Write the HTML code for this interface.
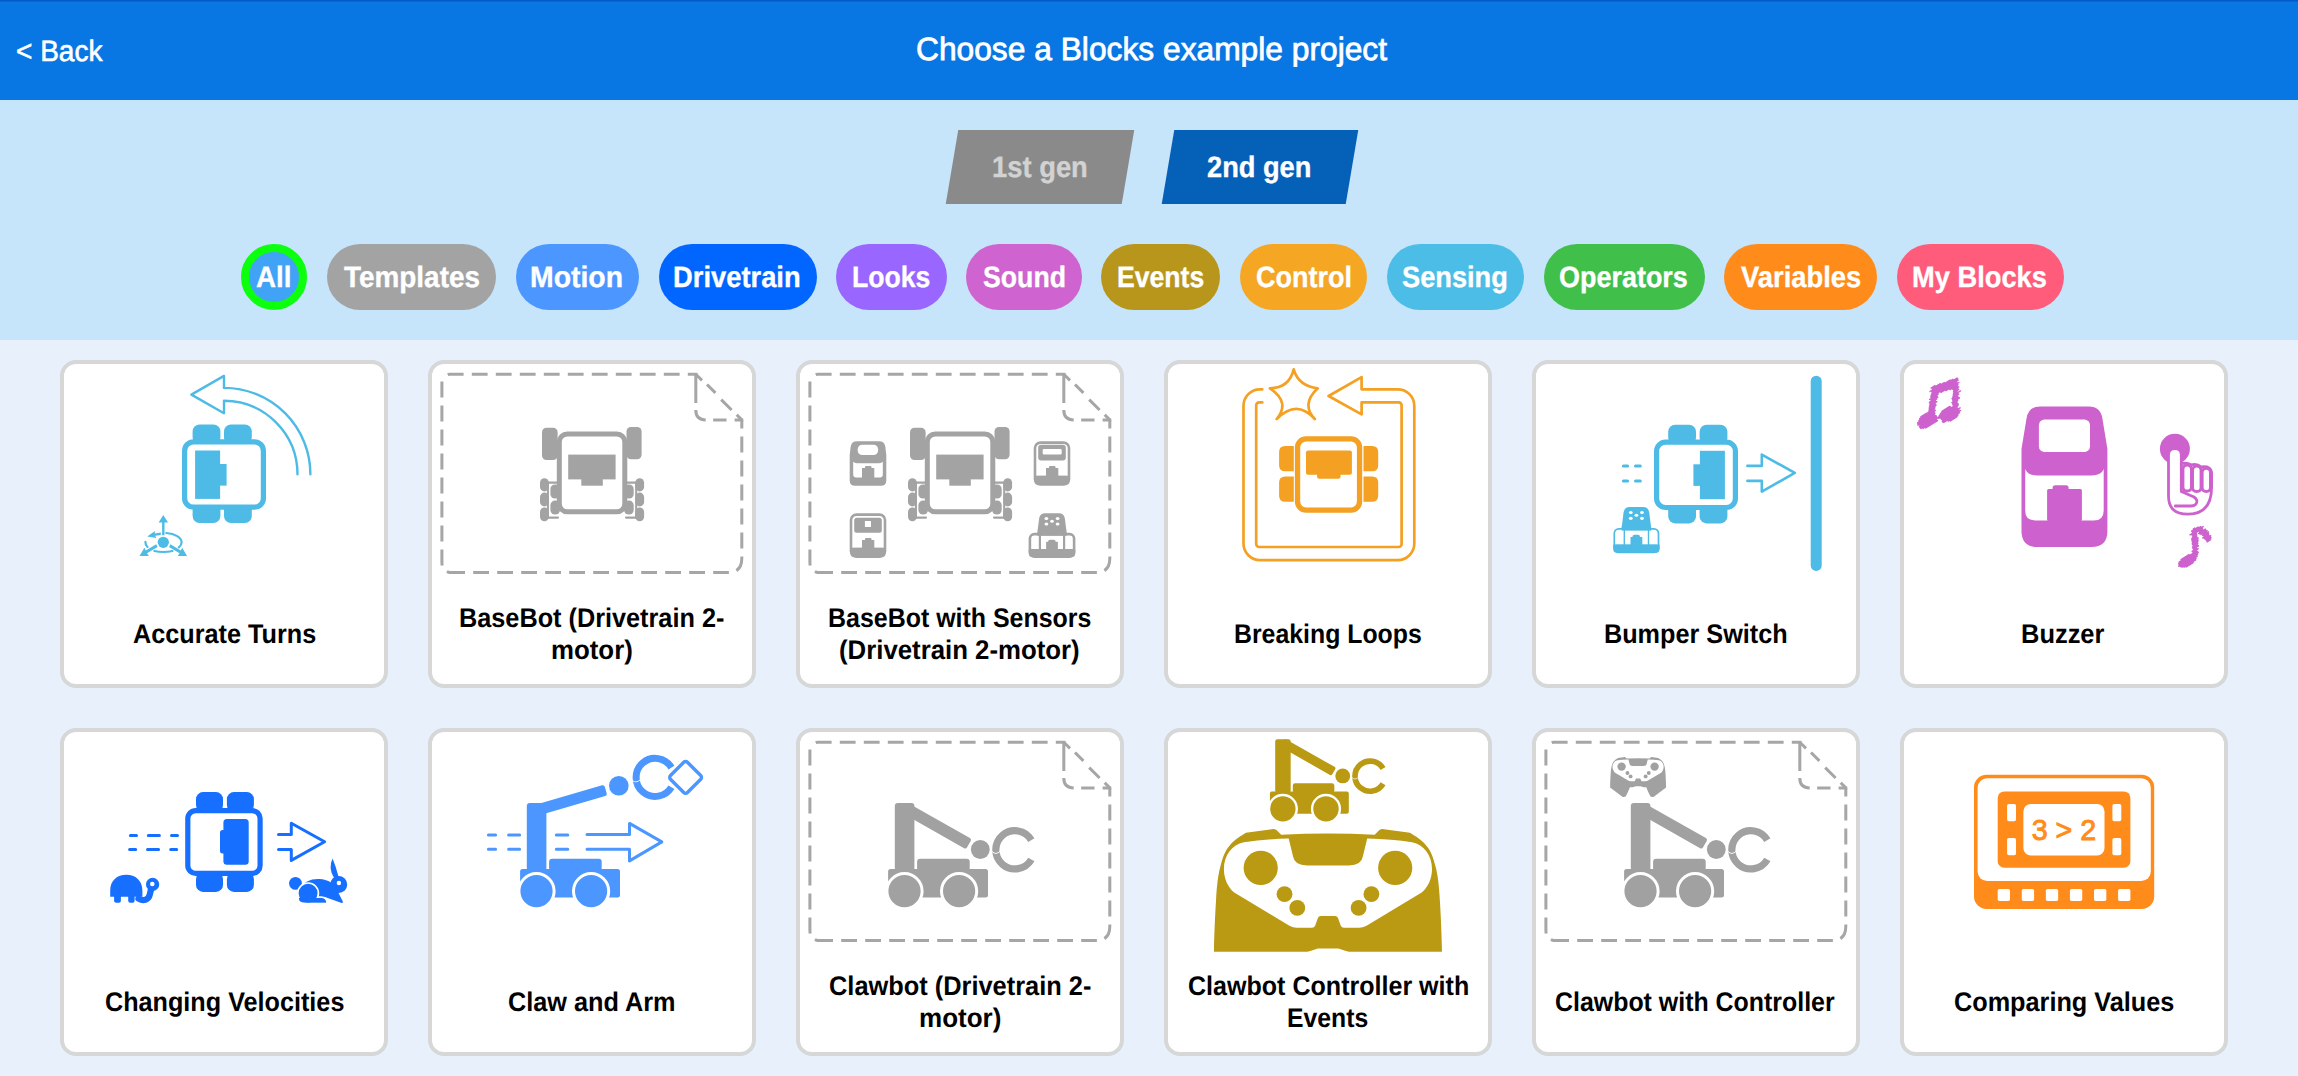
<!DOCTYPE html>
<html lang="en"><head><meta charset="utf-8"><title>Choose a Blocks example project</title>
<style>
html,body{margin:0;padding:0}
body{width:2298px;height:1076px;overflow:hidden;position:relative;background:#e8f0fc;font-family:"Liberation Sans",sans-serif}
.hdr{position:absolute;left:0;top:0;width:2298px;height:100px;background:#0977e3}
.hdr:before{content:"";position:absolute;left:0;top:0;width:100%;height:2px;background:linear-gradient(#0352c2,#0a6edc)}
.flt{position:absolute;left:0;top:100px;width:2298px;height:240px;background:#c6e4fa}
.t{position:absolute;white-space:nowrap;transform-origin:0 50%;text-rendering:geometricPrecision}
.tab{position:absolute;top:130px;height:74px;transform:skewX(-9.6deg)}
.pill{position:absolute;top:244px;height:66px;border-radius:33px}
.card{position:absolute;width:320px;height:320px;border:4px solid #d7d7d7;border-radius:16px;background:#fff}
.card svg{position:absolute;left:-4px;top:-4px;width:328px;height:328px;overflow:visible}
</style></head><body>
<div class="hdr"></div><div class="flt"></div>

<div class="t" style="left:15.9px;top:34.6px;font-size:30px;line-height:33px;font-weight:400;color:#fff;-webkit-text-stroke:0.6px #fff;transform-origin:0 27px;transform:scale(0.9341,0.982)">&lt; Back</div>
<div class="t" style="left:915.7px;top:31px;font-size:33.5px;line-height:37px;font-weight:400;color:#fff;-webkit-text-stroke:0.8px #fff;transform-origin:0 30px;transform:scale(0.9474,0.96)">Choose a Blocks example project</div>
<div class="tab" style="left:952px;width:176px;background:#8a8a8a"></div>
<div class="tab" style="left:1167.6px;width:183.9px;background:#0560b8"></div>
<div class="t" style="left:992.2px;top:150.5px;font-size:30px;line-height:33px;font-weight:700;color:#d2d2d2;-webkit-text-stroke:0.35px #d2d2d2;transform-origin:0 27px;transform:scale(0.9124,0.985)">1st gen</div>
<div class="t" style="left:1207.3px;top:150.5px;font-size:30px;line-height:33px;font-weight:700;color:#fff;-webkit-text-stroke:0.35px #fff;transform-origin:0 27px;transform:scale(0.9078,0.985)">2nd gen</div>
<div class="pill" style="left:241px;width:50px;height:50px;border:8px solid #0cff0c;background:#40a3f5"></div>
<div class="t" style="left:255.5px;top:260.8px;font-size:30px;line-height:33px;font-weight:700;color:#fff;-webkit-text-stroke:0.35px #fff;transform-origin:0 27px;transform:scale(0.9235,0.985)">All</div>
<div class="pill" style="left:326.7px;width:169.0px;background:#a3a3a3"></div>
<div class="t" style="left:343.5px;top:260.8px;font-size:30px;line-height:33px;font-weight:700;color:#fff;-webkit-text-stroke:0.35px #fff;transform-origin:0 27px;transform:scale(0.9302,0.985)">Templates</div>
<div class="pill" style="left:515.7px;width:123.0px;background:#4c97ff"></div>
<div class="t" style="left:530.3px;top:260.8px;font-size:30px;line-height:33px;font-weight:700;color:#fff;-webkit-text-stroke:0.35px #fff;transform-origin:0 27px;transform:scale(0.9463,0.985)">Motion</div>
<div class="pill" style="left:658.5px;width:158.0px;background:#0066ff"></div>
<div class="t" style="left:672.9px;top:260.8px;font-size:30px;line-height:33px;font-weight:700;color:#fff;-webkit-text-stroke:0.35px #fff;transform-origin:0 27px;transform:scale(0.9114,0.985)">Drivetrain</div>
<div class="pill" style="left:836px;width:110.5px;background:#9966ff"></div>
<div class="t" style="left:852.1px;top:260.8px;font-size:30px;line-height:33px;font-weight:700;color:#fff;-webkit-text-stroke:0.35px #fff;transform-origin:0 27px;transform:scale(0.8873,0.985)">Looks</div>
<div class="pill" style="left:966px;width:115.5px;background:#cf63cf"></div>
<div class="t" style="left:982.7px;top:260.8px;font-size:30px;line-height:33px;font-weight:700;color:#fff;-webkit-text-stroke:0.35px #fff;transform-origin:0 27px;transform:scale(0.8895,0.985)">Sound</div>
<div class="pill" style="left:1101px;width:119px;background:#b8961b"></div>
<div class="t" style="left:1117.1px;top:260.8px;font-size:30px;line-height:33px;font-weight:700;color:#fff;-webkit-text-stroke:0.35px #fff;transform-origin:0 27px;transform:scale(0.8864,0.985)">Events</div>
<div class="pill" style="left:1240px;width:127px;background:#f5a623"></div>
<div class="t" style="left:1256.2px;top:260.8px;font-size:30px;line-height:33px;font-weight:700;color:#fff;-webkit-text-stroke:0.35px #fff;transform-origin:0 27px;transform:scale(0.8997,0.985)">Control</div>
<div class="pill" style="left:1387px;width:136.5px;background:#4cbde6"></div>
<div class="t" style="left:1402.4px;top:260.8px;font-size:30px;line-height:33px;font-weight:700;color:#fff;-webkit-text-stroke:0.35px #fff;transform-origin:0 27px;transform:scale(0.9071,0.985)">Sensing</div>
<div class="pill" style="left:1543.5px;width:161.0px;background:#40bf4a"></div>
<div class="t" style="left:1558.7px;top:260.8px;font-size:30px;line-height:33px;font-weight:700;color:#fff;-webkit-text-stroke:0.35px #fff;transform-origin:0 27px;transform:scale(0.8987,0.985)">Operators</div>
<div class="pill" style="left:1724px;width:153px;background:#ff8c1a"></div>
<div class="t" style="left:1740.8px;top:260.8px;font-size:30px;line-height:33px;font-weight:700;color:#fff;-webkit-text-stroke:0.35px #fff;transform-origin:0 27px;transform:scale(0.9125,0.985)">Variables</div>
<div class="pill" style="left:1897px;width:166.5px;background:#ff5c7c"></div>
<div class="t" style="left:1912.1px;top:260.8px;font-size:30px;line-height:33px;font-weight:700;color:#fff;-webkit-text-stroke:0.35px #fff;transform-origin:0 27px;transform:scale(0.9096,0.985)">My Blocks</div>
<div class="card" style="left:60px;top:360px"><svg viewBox="0 0 328 328"><g transform="translate(-60,-360)"><g transform="translate(182,424.5)"><g fill="#4dbbe6"><rect x="10.60" y="0.00" width="27.80" height="20.00" rx="7" /><rect x="10.60" y="78.60" width="27.80" height="20.00" rx="7" /><rect x="42.00" y="0.00" width="27.80" height="20.00" rx="7" /><rect x="42.00" y="78.60" width="27.80" height="20.00" rx="7" /><rect x="2.6" y="17.3" width="78.8" height="65.4" rx="9" fill="#fff" stroke="#4dbbe6" stroke-width="5.2"/><rect x="13.10" y="26.00" width="25.00" height="48.40" rx="0" /><rect x="37.00" y="39.50" width="7.60" height="21.60" rx="0" /></g></g><path d="M310.4,474.3 A86.4,86.4 0 0 0 224,387.9 V375.9 L191.4,394.6 L224,413.2 V400.8 A73.5,73.5 0 0 1 297.5,474.3" fill="none" stroke="#4dbbe6" stroke-width="2.4" stroke-linecap="round" stroke-linejoin="round"/><g fill="#4dbbe6" stroke="none"><circle cx="163.3" cy="542.3" r="5.6"/><path d="M162.1,535.2 V522.6 H158.6 L163.3,514.9 L168,522.6 H164.5 V535.2Z"/><path d="M156.2,544.3 L157.6,546.9 L147,553.2 L148.9,556 H139.5 L144.4,547.8 L145.8,550.6Z"/><path d="M170.4,544.3 L169,546.9 L179.6,553.2 L177.7,556 H187.1 L182.2,547.8 L180.8,550.6Z"/><path d="M147.2,536.4 L155,530.9 L154.6,533.4 L160.8,532.6 V535 L155.2,535.7 L156.4,538Z"/></g><path d="M166.3,533 C175,533.6 181.6,537.6 181.6,542.3 C181.6,544.3 180.6,546 178.8,547.4 M172.5,551 C166.5,552.3 160,552.3 154.3,551 M147.5,547 C145.6,545.4 145.3,543.6 145.4,541.8" fill="none" stroke="#4dbbe6" stroke-width="2.2" stroke-linecap="round"/></g></svg></div>
<div class="t" style="left:132.7px;top:619px;font-size:27px;line-height:30px;font-weight:700;color:#000;transform-origin:0 24px;transform:scale(0.9349,1.0)">Accurate Turns</div>
<div class="card" style="left:428px;top:360px"><svg viewBox="0 0 328 328"><g fill="none" stroke="#a6a6a6" stroke-width="3" stroke-linejoin="round"><path d="M18.6,15.4 Q19.6,14.3 21.5,14.3 H269.3" stroke-dasharray="15.8 8.2" stroke-dashoffset="-1.4"/><path d="M13.9,21.4 V202 Q13.9,212.6 24.5,212.6" stroke-dasharray="16 8" stroke-dashoffset="0"/><path d="M21.2,212.6 H300.8" stroke-dasharray="15.8 8.2" stroke-dashoffset="0"/><path d="M313.8,59.9 V198.6 Q313.8,212.6 299.8,212.6" stroke-dasharray="15.8 8.2" stroke-dashoffset="7.3"/><path d="M267.8,13 V43"/><path d="M267.8,50 Q267.8,59.9 277.7,59.9"/><path d="M285.2,59.9 H298.5 M306.6,59.9 H315.3"/><path d="M267.8,14.3 L274,20.4 M279,24.5 L287.4,32.9 M293.2,39.6 L303.6,50 M308.7,54.8 L313.8,59.9"/></g><g transform="translate(-428,-360)"><g fill="#a3a3a3"><rect x="542.00" y="427.80" width="15.60" height="32.30" rx="4.5" /><rect x="626.50" y="427.00" width="15.10" height="32.30" rx="4.5" /><rect x="540.00" y="478.20" width="8.80" height="13.20" rx="4.4" /><rect x="540.00" y="492.60" width="8.80" height="13.80" rx="4.4" /><rect x="540.00" y="507.40" width="8.80" height="13.80" rx="4.4" /><rect x="550.40" y="484.40" width="9.60" height="14.20" rx="4.6" /><rect x="550.40" y="500.60" width="9.60" height="14.00" rx="4.6" /><path d="M544,482.6 H558 M544,517.6 H558 M547.9,482 V518" stroke="#a3a3a3" stroke-width="2.1" stroke-linecap="round" fill="none"/><rect x="635.30" y="478.20" width="8.80" height="13.20" rx="4.4" /><rect x="635.30" y="492.60" width="8.80" height="13.80" rx="4.4" /><rect x="635.30" y="507.40" width="8.80" height="13.80" rx="4.4" /><rect x="624.10" y="484.40" width="9.60" height="14.20" rx="4.6" /><rect x="624.10" y="500.60" width="9.60" height="14.00" rx="4.6" /><path d="M626,482.6 H640 M626,517.6 H640 M636.2,482 V518" stroke="#a3a3a3" stroke-width="2.1" stroke-linecap="round" fill="none"/><rect x="559.3" y="434" width="65.5" height="77.8" rx="8" fill="#fff" stroke="#a3a3a3" stroke-width="5"/><rect x="568.20" y="454.60" width="47.40" height="24.80" rx="0" /><rect x="581.30" y="479.00" width="21.50" height="6.70" rx="0" /></g></g></svg></div>
<div class="t" style="left:458.6px;top:603px;font-size:27px;line-height:30px;font-weight:700;color:#000;transform-origin:0 24px;transform:scale(0.9357,1.0)">BaseBot (Drivetrain 2-</div>
<div class="t" style="left:550.6px;top:635px;font-size:27px;line-height:30px;font-weight:700;color:#000;transform-origin:0 24px;transform:scale(0.9569,1.0)">motor)</div>
<div class="card" style="left:796px;top:360px"><svg viewBox="0 0 328 328"><g fill="none" stroke="#a6a6a6" stroke-width="3" stroke-linejoin="round"><path d="M18.6,15.4 Q19.6,14.3 21.5,14.3 H269.3" stroke-dasharray="15.8 8.2" stroke-dashoffset="-1.4"/><path d="M13.9,21.4 V202 Q13.9,212.6 24.5,212.6" stroke-dasharray="16 8" stroke-dashoffset="0"/><path d="M21.2,212.6 H300.8" stroke-dasharray="15.8 8.2" stroke-dashoffset="0"/><path d="M313.8,59.9 V198.6 Q313.8,212.6 299.8,212.6" stroke-dasharray="15.8 8.2" stroke-dashoffset="7.3"/><path d="M267.8,13 V43"/><path d="M267.8,50 Q267.8,59.9 277.7,59.9"/><path d="M285.2,59.9 H298.5 M306.6,59.9 H315.3"/><path d="M267.8,14.3 L274,20.4 M279,24.5 L287.4,32.9 M293.2,39.6 L303.6,50 M308.7,54.8 L313.8,59.9"/></g><g transform="translate(-796,-360)"><g transform="translate(368,0)"><g fill="#a3a3a3"><rect x="542.00" y="427.80" width="15.60" height="32.30" rx="4.5" /><rect x="626.50" y="427.00" width="15.10" height="32.30" rx="4.5" /><rect x="540.00" y="478.20" width="8.80" height="13.20" rx="4.4" /><rect x="540.00" y="492.60" width="8.80" height="13.80" rx="4.4" /><rect x="540.00" y="507.40" width="8.80" height="13.80" rx="4.4" /><rect x="550.40" y="484.40" width="9.60" height="14.20" rx="4.6" /><rect x="550.40" y="500.60" width="9.60" height="14.00" rx="4.6" /><path d="M544,482.6 H558 M544,517.6 H558 M547.9,482 V518" stroke="#a3a3a3" stroke-width="2.1" stroke-linecap="round" fill="none"/><rect x="635.30" y="478.20" width="8.80" height="13.20" rx="4.4" /><rect x="635.30" y="492.60" width="8.80" height="13.80" rx="4.4" /><rect x="635.30" y="507.40" width="8.80" height="13.80" rx="4.4" /><rect x="624.10" y="484.40" width="9.60" height="14.20" rx="4.6" /><rect x="624.10" y="500.60" width="9.60" height="14.00" rx="4.6" /><path d="M626,482.6 H640 M626,517.6 H640 M636.2,482 V518" stroke="#a3a3a3" stroke-width="2.1" stroke-linecap="round" fill="none"/><rect x="559.3" y="434" width="65.5" height="77.8" rx="8" fill="#fff" stroke="#a3a3a3" stroke-width="5"/><rect x="568.20" y="454.60" width="47.40" height="24.80" rx="0" /><rect x="581.30" y="479.00" width="21.50" height="6.70" rx="0" /></g></g><g fill="#a3a3a3"><path d="M857,441.3 H879 Q884.5,441.3 885.3,446.5 L886.3,455 V480.2 Q886.3,485.7 880.8,485.7 H855.2 Q849.7,485.7 849.7,480.2 V455 L850.7,446.5 Q851.5,441.3 857,441.3Z"/><rect x="857.70" y="444.80" width="20.40" height="10.20" rx="4.5" fill="#fff" /><path d="M853.2,461.5 Q854,463.3 857,463.3 H879 Q882,463.3 882.8,461.5 V474.5 Q882.8,477.5 879.8,477.5 H856.2 Q853.2,477.5 853.2,474.5Z" fill="#fff"/><rect x="862.00" y="468.00" width="12.30" height="10.00" rx="0" /><rect x="865.00" y="466.00" width="6.50" height="3.00" rx="1" /><rect x="1035" y="442.6" width="34" height="41.8" rx="5.5" fill="#fff" stroke="#a3a3a3" stroke-width="2.6"/><rect x="1038.20" y="444.80" width="27.60" height="15.70" rx="3" /><rect x="1042.70" y="448.90" width="19.00" height="5.50" rx="1.2" fill="#fff" /><rect x="1034.70" y="475.80" width="34.60" height="8.90" rx="3" /><rect x="1034.70" y="475.80" width="34.60" height="4.20" rx="0" /><rect x="1046.00" y="468.00" width="12.30" height="10.00" rx="0" /><rect x="1049.00" y="466.00" width="6.50" height="3.00" rx="1" /><rect x="851" y="514.6" width="34" height="42" rx="5.5" fill="#fff" stroke="#a3a3a3" stroke-width="2.6"/><rect x="854.20" y="517.80" width="27.60" height="14.90" rx="2.5" /><rect x="864.90" y="520.90" width="6.10" height="6.10" rx="0.5" fill="#fff" /><rect x="850.70" y="547.80" width="34.60" height="9.10" rx="3" /><rect x="850.70" y="547.80" width="34.60" height="4.20" rx="0" /><rect x="862.00" y="540.00" width="12.30" height="10.00" rx="0" /><rect x="865.00" y="538.00" width="6.50" height="3.00" rx="1" /><g transform="translate(1028.6,513.3)" fill="#a3a3a3"><path d="M16.5,0 H30.3 Q35.3,0 36.2,5 L38.4,21.5 H8.4 L10.6,5 Q11.5,0 16.5,0Z"/><ellipse cx="17.8" cy="5.2" rx="1.9" ry="1.5" fill="#fff"/><ellipse cx="29" cy="5.2" rx="1.9" ry="1.5" fill="#fff"/><ellipse cx="23.4" cy="7.9" rx="1.9" ry="1.5" fill="#fff"/><ellipse cx="17.8" cy="10.8" rx="1.9" ry="1.5" fill="#fff"/><ellipse cx="29" cy="10.8" rx="1.9" ry="1.5" fill="#fff"/><rect x="1.3" y="20.8" width="44.2" height="22.5" rx="4.5" fill="#fff" stroke="#a3a3a3" stroke-width="2.6"/><rect x="0.20" y="35.80" width="46.40" height="7.80" rx="3.5" /><rect x="0.20" y="35.80" width="46.40" height="3.70" rx="0" /><path d="M11.3,20.5 V37 M35.5,20.5 V37" stroke="#a3a3a3" stroke-width="2.2" fill="none"/><rect x="17.50" y="28.50" width="11.80" height="9.50" rx="0" /><rect x="19.50" y="26.50" width="7.50" height="3.50" rx="2" /><rect x="8.60" y="19.50" width="29.60" height="3.00" rx="0" /></g></g></g></svg></div>
<div class="t" style="left:827.7px;top:603px;font-size:27px;line-height:30px;font-weight:700;color:#000;transform-origin:0 24px;transform:scale(0.9241,1.0)">BaseBot with Sensors</div>
<div class="t" style="left:839.4px;top:635px;font-size:27px;line-height:30px;font-weight:700;color:#000;transform-origin:0 24px;transform:scale(0.9547,1.0)">(Drivetrain 2-motor)</div>
<div class="card" style="left:1164px;top:360px"><svg viewBox="0 0 328 328"><g transform="translate(-1164,-360)"><path d="M1262.3,389.3 H1260 A16.5,16.5 0 0 0 1243.5,405.8 V543.6 A16.5,16.5 0 0 0 1260,560.1 H1397.8 A16.5,16.5 0 0 0 1414.3,543.6 V405.8 A16.5,16.5 0 0 0 1397.8,389.3 H1361.6 V377.2 L1328.6,396 L1361.6,414.4 V402.4 H1398.6 A3,3 0 0 1 1401.6,405.4 V544 A3,3 0 0 1 1398.6,547 H1259.2 A3,3 0 0 1 1256.2,544 V405.4 A3,3 0 0 1 1259.2,402.4 H1262.3" fill="none" stroke="#f4a022" stroke-width="2.7" stroke-linecap="round" stroke-linejoin="round"/><path d="M1293.7,369.4 Q1298.5,386.1 1317.7,388.3 Q1300.8,404.3 1314.8,419 Q1296.7,398.7 1276.7,419 Q1290.7,402.3 1269.9,388.3 Q1289.2,388.1 1293.7,369.4Z" fill="none" stroke="#f4a022" stroke-width="2.7" stroke-linejoin="round"/><g fill="#f4a022"><path d="M1293.8,445.9 H1285.1 Q1279.1,445.9 1279.1,451.9 V465.3 Q1279.1,471.3 1285.1,471.3 H1293.8Z"/><path d="M1363.5,445.9 H1372.2 Q1378.2,445.9 1378.2,451.9 V465.3 Q1378.2,471.3 1372.2,471.3 H1363.5Z"/><path d="M1293.8,476.6 H1285.1 Q1279.1,476.6 1279.1,482.6 V495.7 Q1279.1,501.7 1285.1,501.7 H1293.8Z"/><path d="M1363.5,476.6 H1372.2 Q1378.2,476.6 1378.2,482.6 V495.7 Q1378.2,501.7 1372.2,501.7 H1363.5Z"/><rect x="1297.55" y="438.85" width="62" height="71.2" rx="8.5" fill="#fff" stroke="#f4a022" stroke-width="5.3"/><rect x="1306.00" y="450.40" width="45.90" height="24.40" rx="2" /><rect x="1317.10" y="472.00" width="23.40" height="6.70" rx="2" /></g></g></svg></div>
<div class="t" style="left:1233.7px;top:619px;font-size:27px;line-height:30px;font-weight:700;color:#000;transform-origin:0 24px;transform:scale(0.9202,1.0)">Breaking Loops</div>
<div class="card" style="left:1532px;top:360px"><svg viewBox="0 0 328 328"><g transform="translate(-1532,-360)"><line x1="1816.2" y1="381.2" x2="1816.2" y2="565.4" stroke="#4dbbe6" stroke-width="11" stroke-linecap="round"/><g transform="translate(1738,424.8) scale(-1,1)"><g fill="#4dbbe6"><rect x="10.60" y="0.00" width="27.80" height="20.00" rx="7" /><rect x="10.60" y="78.60" width="27.80" height="20.00" rx="7" /><rect x="42.00" y="0.00" width="27.80" height="20.00" rx="7" /><rect x="42.00" y="78.60" width="27.80" height="20.00" rx="7" /><rect x="2.6" y="17.3" width="78.8" height="65.4" rx="9" fill="#fff" stroke="#4dbbe6" stroke-width="5.2"/><rect x="13.10" y="26.00" width="25.00" height="48.40" rx="0" /><rect x="37.00" y="39.50" width="7.60" height="21.60" rx="0" /></g></g><path d="M1623.4,465.9 H1627.6 M1635.5,465.9 H1640.3 M1623.4,480.9 H1627.6 M1635.5,480.9 H1640.3" stroke="#4dbbe6" stroke-width="3" stroke-linecap="round" fill="none"/><path d="M1747.4,465.9 H1761.8 V454.6 L1794.8,472.9 L1761.8,491.6 V480.9 H1747.4" fill="none" stroke="#4dbbe6" stroke-width="2.6" stroke-linecap="round" stroke-linejoin="round"/><g transform="translate(0,507) scale(1,1.05) translate(0,-507)"><g transform="translate(1613,507)" fill="#4dbbe6"><path d="M16.5,0 H30.3 Q35.3,0 36.2,5 L38.4,21.5 H8.4 L10.6,5 Q11.5,0 16.5,0Z"/><ellipse cx="17.8" cy="5.2" rx="1.9" ry="1.5" fill="#fff"/><ellipse cx="29" cy="5.2" rx="1.9" ry="1.5" fill="#fff"/><ellipse cx="23.4" cy="7.9" rx="1.9" ry="1.5" fill="#fff"/><ellipse cx="17.8" cy="10.8" rx="1.9" ry="1.5" fill="#fff"/><ellipse cx="29" cy="10.8" rx="1.9" ry="1.5" fill="#fff"/><rect x="1.3" y="20.8" width="44.2" height="22.5" rx="4.5" fill="#fff" stroke="#4dbbe6" stroke-width="1.7"/><rect x="0.20" y="35.80" width="46.40" height="7.80" rx="3.5" /><rect x="0.20" y="35.80" width="46.40" height="3.70" rx="0" /><path d="M11.3,20.5 V37 M35.5,20.5 V37" stroke="#4dbbe6" stroke-width="1.4" fill="none"/><rect x="17.50" y="28.50" width="11.80" height="9.50" rx="0" /><rect x="19.50" y="26.50" width="7.50" height="3.50" rx="2" /><rect x="8.60" y="19.50" width="29.60" height="3.00" rx="0" /></g></g></g></svg></div>
<div class="t" style="left:1604.2px;top:619px;font-size:27px;line-height:30px;font-weight:700;color:#000;transform-origin:0 24px;transform:scale(0.9342,1.0)">Bumper Switch</div>
<div class="card" style="left:1900px;top:360px"><svg viewBox="0 0 328 328"><g transform="translate(-1900,-360)"><g fill="#cd61cd"><path d="M2040,406.5 H2089 Q2100.5,406.5 2102.4,418.5 L2107.4,449 V531 Q2107.4,547 2091.4,547 H2037.5 Q2021.5,547 2021.5,531 V449 L2026.5,418.5 Q2028.4,406.5 2040,406.5Z"/><rect x="2038.90" y="419.60" width="51.10" height="32.30" rx="5.5" fill="#fff" /><path d="M2025.2,469 Q2027.5,475.4 2037.5,475.4 H2091.5 Q2101.5,475.4 2103.7,469 V510.4 Q2103.7,520.4 2093.7,520.4 H2035.2 Q2025.2,520.4 2025.2,510.4Z" fill="#fff"/><rect x="2047.10" y="489.10" width="34.80" height="31.90" rx="1.5" /><rect x="2052.60" y="485.20" width="16.00" height="5.80" rx="2.5" /><circle cx="2174.9" cy="448.8" r="15"/></g><g fill="#fff" stroke="#cd61cd" stroke-width="2.8" stroke-linejoin="round" stroke-linecap="round"><path d="M2168.5,455 Q2168.5,448.6 2174.9,448.6 Q2181.3,448.6 2181.3,455 V464 Q2186,461.8 2191.2,465 Q2196.5,463 2201.4,467 Q2211.4,465.5 2211.6,473.5 V487 Q2211.6,514 2188,514.2 Q2168.5,514.4 2168.5,496 Z"/><path d="M2181.3,464 V491.5 L2194,497 Q2199,500.5 2195.5,504.5 Q2194,506 2191,506 H2175.3" fill="none"/><path d="M2183,469.5 Q2183,465.2 2187.2,465.2 Q2191.4,465.2 2191.4,469.5 V487 Q2191.4,491 2187.2,491 Q2183,491 2183,487Z"/><path d="M2192.6,470.5 Q2192.6,466.2 2196.8,466.2 Q2201,466.2 2201,470.5 V487.5 Q2201,491.5 2196.8,491.5 Q2192.6,491.5 2192.6,487.5Z"/><path d="M2202.2,472.5 Q2202.2,468.4 2206.3,468.4 Q2210.4,468.4 2210.4,472.5 V487.5 Q2210.4,491.5 2206.3,491.5 Q2202.2,491.5 2202.2,487.5Z"/></g><path d="M1931.1,388.0L1935.0,385.6M1932.3,388.6L1940.3,383.7M1929.9,391.5L1944.3,382.5M1931.8,391.5L1950.1,380.0M1932.0,392.4L1952.9,379.3M1931.4,394.2L1957.1,378.1M1930.9,395.8L1957.9,378.9M1930.9,397.2L1958.1,380.2M1929.5,399.5L1938.3,394.0M1941.0,392.3L1957.0,382.3M1931.0,400.0L1937.3,396.0M1945.9,390.6L1959.0,382.5M1929.4,402.4L1937.8,397.2M1949.9,389.6L1958.0,384.6M1929.9,403.3L1936.8,399.0M1952.5,389.2L1957.4,386.2M1929.8,404.8L1935.7,401.2M1953.6,390.0L1958.8,386.8M1929.5,406.3L1936.8,401.7M1953.5,391.3L1957.9,388.5M1929.1,408.0L1935.4,404.1M1953.5,392.8L1958.8,389.5M1929.2,409.4L1936.1,405.1M1953.3,394.4L1957.3,391.8M1929.1,410.6L1935.1,406.8M1953.2,395.5L1960.5,390.9M1920.8,416.8L1926.4,413.3M1927.7,412.5L1934.7,408.1M1952.6,397.0L1958.0,393.6M1919.6,418.7L1928.2,413.4M1927.8,413.6L1934.3,409.5M1952.0,398.5L1958.8,394.2M1918.9,420.6L1935.4,410.3M1952.5,399.7L1957.9,396.3M1917.5,422.8L1934.4,412.2M1952.8,400.7L1958.3,397.3M1917.9,423.9L1935.0,413.2M1951.9,402.6L1959.5,397.8M1917.8,425.1L1934.5,414.6M1952.5,403.4L1957.7,400.2M1919.7,425.2L1935.3,415.4M1941.9,411.3L1949.8,406.4M1952.9,404.5L1957.2,401.7M1919.4,426.6L1936.4,415.9M1940.4,413.5L1950.6,407.1M1953.2,405.5L1957.1,403.0M1920.0,427.4L1936.8,416.9M1939.3,415.3L1952.5,407.1M1952.5,407.1L1958.0,403.7M1920.7,428.3L1937.6,417.8M1938.4,417.2L1958.4,404.8M1922.9,428.3L1936.5,419.7M1938.7,418.3L1957.6,406.6M1925.7,428.0L1937.5,420.6M1940.9,418.5L1957.2,408.3M1941.5,419.4L1960.1,407.8M1942.6,420.3L1959.2,409.9M1942.3,421.9L1960.6,410.5M1943.7,422.5L1959.5,412.7M1948.3,421.1L1958.1,414.9M1950.3,420.9L1957.1,416.7" stroke="#cd61cd" stroke-width="1.4" stroke-linecap="round" fill="none"/><path d="M2193.2,529.0L2194.7,528.1M2191.6,531.2L2198.1,527.1M2192.2,531.9L2200.9,526.5M2190.0,534.8L2203.2,526.6M2192.0,535.0L2197.8,531.3M2196.3,532.3L2202.4,528.5M2192.8,535.6L2196.4,533.3M2199.2,531.5L2202.6,529.4M2192.4,537.2L2196.6,534.6M2198.4,533.5L2205.4,529.1M2191.7,538.8L2196.7,535.7M2199.6,533.8L2205.7,530.0M2191.8,540.0L2196.9,536.8M2200.9,534.3L2207.1,530.5M2192.1,540.9L2197.3,537.7M2203.0,534.1L2206.7,531.8M2192.3,541.8L2198.2,538.1M2202.6,535.4L2208.3,531.8M2192.3,543.3L2198.0,539.7M2203.9,536.0L2208.6,533.1M2192.4,544.4L2198.1,540.8M2202.7,537.9L2208.7,534.2M2192.9,545.2L2197.7,542.1M2204.1,538.2L2208.8,535.3M2192.4,547.0L2197.8,543.6M2205.0,539.1L2210.6,535.6M2192.8,548.2L2197.7,545.2M2206.0,539.9L2210.7,537.0M2193.3,549.0L2198.5,545.8M2206.6,540.7L2211.1,537.9M2192.1,551.3L2196.9,548.3M2207.1,541.9L2210.6,539.7M2181.0,559.5L2189.0,554.6M2192.8,552.2L2198.2,548.8M2179.1,562.1L2191.8,554.2M2191.5,554.3L2196.6,551.2M2178.7,563.5L2192.2,555.0M2191.9,555.2L2197.8,551.5M2178.7,565.0L2198.3,552.7M2178.8,566.3L2197.5,554.6M2180.6,566.7L2197.1,556.3M2182.0,567.2L2196.1,558.5M2184.1,567.1L2195.7,559.9M2186.2,567.0L2193.2,562.6" stroke="#cd61cd" stroke-width="1.4" stroke-linecap="round" fill="none"/></g></svg></div>
<div class="t" style="left:2021.1px;top:619px;font-size:27px;line-height:30px;font-weight:700;color:#000;transform-origin:0 24px;transform:scale(0.9425,1.0)">Buzzer</div>
<div class="card" style="left:60px;top:728px"><svg viewBox="0 0 328 328"><g transform="translate(-60,-728)"><g fill="#176fff"><rect x="196.00" y="792.10" width="27.00" height="19.90" rx="7" /><rect x="196.00" y="872.00" width="27.00" height="19.90" rx="7" /><rect x="226.90" y="792.10" width="27.00" height="19.90" rx="7" /><rect x="226.90" y="872.00" width="27.00" height="19.90" rx="7" /><rect x="187.8" y="810.6" width="72.3" height="62.8" rx="8" fill="#fff" stroke="#176fff" stroke-width="5.2"/><rect x="223.40" y="819.00" width="25.30" height="45.80" rx="3.5" /><rect x="220.00" y="830.10" width="6.00" height="23.40" rx="2.5" /></g><path d="M130.4,835.6 H136.5 M148.3,835.6 H159.4 M171.5,835.6 H177.5 M129.6,849.4 H135.7 M147.5,849.4 H158.6 M170.7,849.4 H176.7" stroke="#176fff" stroke-width="3" stroke-linecap="round" fill="none"/><path d="M278.5,834.4 H291.3 V823.2 L324.6,841.8 L291.3,860.4 V849.4 H278.5" fill="none" stroke="#176fff" stroke-width="3" stroke-linecap="round" stroke-linejoin="round"/><g fill="#176fff"><path d="M110.2,896.8 V890.5 C110.2,880.5 117,874.7 126.3,874.7 C135.6,874.7 142.4,880.5 142.4,890.5 V896.8 H134.6 V900.8 Q134.6,902.8 132.6,902.8 H130.2 Q128.2,902.8 128.2,900.8 V896.8 H120.9 V900.8 Q120.9,902.8 118.9,902.8 H116.1 Q114.1,902.8 114.1,900.8 V896.8Z"/><path d="M138.5,898.6 C143,901.3 148.6,900.4 149.9,894.2 C150.4,891.6 150.8,889.6 151.5,887.6" fill="none" stroke="#176fff" stroke-width="6.3" stroke-linecap="round"/><circle cx="152.6" cy="884.4" r="6.6"/><circle cx="152.3" cy="884" r="2.3" fill="#fff"/></g><g fill="#176fff"><circle cx="295.5" cy="883.4" r="6.4"/><path d="M300,890 C303,881.5 311,878.6 319.5,879 C328,879.6 333,883 336,888 L343.2,902.2 L341.6,903 L325,897 L312,898Z"/><circle cx="338.7" cy="884.4" r="8.5"/><path d="M334.2,878.2 Q327.8,868 332.6,858.4 Q335.8,866 338.6,877Z"/><circle cx="308.1" cy="893.3" r="10.3" stroke="#fff" stroke-width="1.7"/><path d="M299,898 H321 Q326.3,898 326.3,902.8 H306 Q299,902.8 299,899Z"/><path d="M317.6,897.1 H321.2 Q327,897.1 327.1,902.6" fill="none" stroke="#fff" stroke-width="1.5"/><rect x="296" y="902.9" width="34" height="4" fill="#fff"/><circle cx="338.9" cy="883" r="2.2" fill="#fff"/></g></g></svg></div>
<div class="t" style="left:104.6px;top:987px;font-size:27px;line-height:30px;font-weight:700;color:#000;transform-origin:0 24px;transform:scale(0.9331,1.0)">Changing Velocities</div>
<div class="card" style="left:428px;top:728px"><svg viewBox="0 0 328 328"><rect x="0" y="-5.55" width="72.07" height="11.1" rx="2.2" fill="#4c97ff" transform="translate(108.6,82.3) rotate(-16.36)"/><g fill="#4c97ff"><rect x="92.10" y="141.10" width="99.90" height="28.40" rx="2.5" /><rect x="121.10" y="130.80" width="52.60" height="12.20" rx="3" /><rect x="98.80" y="75.00" width="19.60" height="68.00" rx="3" /><circle cx="108.5" cy="163.2" r="17.6" stroke="#fff" stroke-width="3"/><circle cx="163.1" cy="163.2" r="17.6" stroke="#fff" stroke-width="3"/></g><circle cx="190.8" cy="57.8" r="9.8" fill="#4c97ff"/><path d="M243.39,39.61 A19,19 0 1 0 243.39,59.19" fill="none" stroke="#4c97ff" stroke-width="7"/><path d="M204.5,52.5 Q208,55.5 212,52" fill="none" stroke="#fff" stroke-width="0.9"/><rect x="-12" y="-12" width="24" height="24" rx="2.6" fill="none" stroke="#4c97ff" stroke-width="3.4" transform="translate(257.6,49.4) rotate(45)"/><path d="M60.4,107.1 H67.6 M80.6,107.1 H91.6 M128.3,107.1 H139.8 M60.4,121.3 H67.6 M80.6,121.3 H91.6 M128.3,121.3 H139.8" stroke="#4c97ff" stroke-width="3" stroke-linecap="round" fill="none"/><path d="M159,106.6 H201.5 V95.4 L233.8,113.9 L201.5,132.9 V121.3 H159" fill="none" stroke="#4c97ff" stroke-width="3" stroke-linecap="round" stroke-linejoin="round"/></svg></div>
<div class="t" style="left:508.2px;top:987px;font-size:27px;line-height:30px;font-weight:700;color:#000;transform-origin:0 24px;transform:scale(0.9353,1.0)">Claw and Arm</div>
<div class="card" style="left:796px;top:728px"><svg viewBox="0 0 328 328"><g fill="none" stroke="#a6a6a6" stroke-width="3" stroke-linejoin="round"><path d="M18.6,15.4 Q19.6,14.3 21.5,14.3 H269.3" stroke-dasharray="15.8 8.2" stroke-dashoffset="-1.4"/><path d="M13.9,21.4 V202 Q13.9,212.6 24.5,212.6" stroke-dasharray="16 8" stroke-dashoffset="0"/><path d="M21.2,212.6 H300.8" stroke-dasharray="15.8 8.2" stroke-dashoffset="0"/><path d="M313.8,59.9 V198.6 Q313.8,212.6 299.8,212.6" stroke-dasharray="15.8 8.2" stroke-dashoffset="7.3"/><path d="M267.8,13 V43"/><path d="M267.8,50 Q267.8,59.9 277.7,59.9"/><path d="M285.2,59.9 H298.5 M306.6,59.9 H315.3"/><path d="M267.8,14.3 L274,20.4 M279,24.5 L287.4,32.9 M293.2,39.6 L303.6,50 M308.7,54.8 L313.8,59.9"/></g><rect x="0" y="-5.85" width="74.61" height="11.7" rx="2.2" fill="#a1a1a1" transform="translate(108,79.4) rotate(29.55)"/><g fill="#a1a1a1"><rect x="92.10" y="141.10" width="99.90" height="28.40" rx="2.5" /><rect x="121.10" y="130.80" width="52.60" height="12.20" rx="3" /><rect x="98.80" y="75.00" width="19.60" height="68.00" rx="3" /><circle cx="108.5" cy="163.2" r="17.6" stroke="#fff" stroke-width="3"/><circle cx="163.1" cy="163.2" r="17.6" stroke="#fff" stroke-width="3"/></g><circle cx="184.3" cy="121.5" r="9.4" fill="#a1a1a1"/><path d="M235.36,112.11 A19.1,19.1 0 1 0 235.36,131.49" fill="none" stroke="#a1a1a1" stroke-width="7.2"/><path d="M196,123.5 Q200,127.5 204,123.2" fill="none" stroke="#fff" stroke-width="0.9"/></svg></div>
<div class="t" style="left:828.6px;top:971px;font-size:27px;line-height:30px;font-weight:700;color:#000;transform-origin:0 24px;transform:scale(0.9402,1.0)">Clawbot (Drivetrain 2-</div>
<div class="t" style="left:918.5px;top:1003px;font-size:27px;line-height:30px;font-weight:700;color:#000;transform-origin:0 24px;transform:scale(0.9641,1.0)">motor)</div>
<div class="card" style="left:1164px;top:728px"><svg viewBox="0 0 328 328"><g transform="translate(105.9,63.4) scale(0.79) translate(-92.1,-141.1)"><rect x="0" y="-5.85" width="74.61" height="11.7" rx="2.2" fill="#ba9a12" transform="translate(108,79.4) rotate(29.55)"/><g fill="#ba9a12"><rect x="92.10" y="141.10" width="99.90" height="28.40" rx="2.5" /><rect x="121.10" y="130.80" width="52.60" height="12.20" rx="3" /><rect x="98.80" y="75.00" width="19.60" height="68.00" rx="3" /><circle cx="108.5" cy="163.2" r="17.6" stroke="#fff" stroke-width="3"/><circle cx="163.1" cy="163.2" r="17.6" stroke="#fff" stroke-width="3"/></g><circle cx="184.3" cy="121.5" r="9.4" fill="#ba9a12"/><path d="M235.36,112.11 A19.1,19.1 0 1 0 235.36,131.49" fill="none" stroke="#ba9a12" stroke-width="7.2"/><path d="M196,123.5 Q200,127.5 204,123.2" fill="none" stroke="#fff" stroke-width="0.9"/></g><clipPath id="ctlclip"><rect x="0" y="-2" width="229" height="124.9"/></clipPath><g transform="translate(49.9,100.8)" clip-path="url(#ctlclip)"><path d="M0,123.8 C0.5,100 1.5,82 2.1,72.2 C3,55 4.5,45 6.4,38 C9,28 11,22.5 15,17.7 C19,12.5 24,9 28.9,6 L32,3.9 L59.9,0.2 Q62.5,0.5 64.1,2.8 L67.3,6 Q114,3.2 160.8,6 L164,2.8 Q165.6,0.5 168.2,0.2 L196.1,3.9 L199.2,6 C204.1,9 209.1,12.5 213.1,17.7 C217.1,22.5 219.1,28 221.7,38 C223.6,45 225.1,55 226,72.2 C226.6,82 227.6,100 228.1,123.8 L178.1,162.4 Q171,164.2 164.5,161.3 C158,150 152,137 147.4,123.5 H136 L124.5,119.6 H104 L92.5,123.5 H80.7 C76,137 70,150 63.6,161.3 Q57,164.2 50,162.4Z" fill="#ba9a12"/><path d="M74.8,9.8 Q50,10.5 29.9,13.5 C18,16 10,27 10,40.2 C10,50 14,58.5 20.3,63.7 L75.5,97 Q79.1,99 83,99 H98 Q100.5,99 101.3,96.6 L104,89.2 Q104.7,87.2 107,87.2 H121.1 Q123.4,87.2 124.1,89.2 L126.8,96.6 Q127.6,99 130.1,99 H145.1 Q149,99 152.6,97 L207.8,63.7 C214.1,58.5 218.1,50 218.1,40.2 C218.1,27 210.1,16 198.2,13.5 Q178,10.5 153.3,9.8 L149,27.4 Q147.5,36.6 135.1,36.6 H93 Q80.6,36.6 79.1,27.4Z" fill="#fff"/><circle cx="46.8" cy="39.1" r="17.1" fill="#ba9a12"/><circle cx="181.3" cy="39.1" r="17.1" fill="#ba9a12"/><circle cx="70.6" cy="65.4" r="7.9" fill="#ba9a12"/><circle cx="83.4" cy="79.1" r="7.9" fill="#ba9a12"/><circle cx="157.5" cy="65.4" r="7.9" fill="#ba9a12"/><circle cx="144.7" cy="79.1" r="7.9" fill="#ba9a12"/></g></svg></div>
<div class="t" style="left:1188.1px;top:971px;font-size:27px;line-height:30px;font-weight:700;color:#000;transform-origin:0 24px;transform:scale(0.9282,1.0)">Clawbot Controller with</div>
<div class="t" style="left:1287.3px;top:1003px;font-size:27px;line-height:30px;font-weight:700;color:#000;transform-origin:0 24px;transform:scale(0.9173,1.0)">Events</div>
<div class="card" style="left:1532px;top:728px"><svg viewBox="0 0 328 328"><g fill="none" stroke="#a6a6a6" stroke-width="3" stroke-linejoin="round"><path d="M18.6,15.4 Q19.6,14.3 21.5,14.3 H269.3" stroke-dasharray="15.8 8.2" stroke-dashoffset="-1.4"/><path d="M13.9,21.4 V202 Q13.9,212.6 24.5,212.6" stroke-dasharray="16 8" stroke-dashoffset="0"/><path d="M21.2,212.6 H300.8" stroke-dasharray="15.8 8.2" stroke-dashoffset="0"/><path d="M313.8,59.9 V198.6 Q313.8,212.6 299.8,212.6" stroke-dasharray="15.8 8.2" stroke-dashoffset="7.3"/><path d="M267.8,13 V43"/><path d="M267.8,50 Q267.8,59.9 277.7,59.9"/><path d="M285.2,59.9 H298.5 M306.6,59.9 H315.3"/><path d="M267.8,14.3 L274,20.4 M279,24.5 L287.4,32.9 M293.2,39.6 L303.6,50 M308.7,54.8 L313.8,59.9"/></g><rect x="0" y="-5.85" width="74.61" height="11.7" rx="2.2" fill="#a1a1a1" transform="translate(108,79.4) rotate(29.55)"/><g fill="#a1a1a1"><rect x="92.10" y="141.10" width="99.90" height="28.40" rx="2.5" /><rect x="121.10" y="130.80" width="52.60" height="12.20" rx="3" /><rect x="98.80" y="75.00" width="19.60" height="68.00" rx="3" /><circle cx="108.5" cy="163.2" r="17.6" stroke="#fff" stroke-width="3"/><circle cx="163.1" cy="163.2" r="17.6" stroke="#fff" stroke-width="3"/></g><circle cx="184.3" cy="121.5" r="9.4" fill="#a1a1a1"/><path d="M235.36,112.11 A19.1,19.1 0 1 0 235.36,131.49" fill="none" stroke="#a1a1a1" stroke-width="7.2"/><path d="M196,123.5 Q200,127.5 204,123.2" fill="none" stroke="#fff" stroke-width="0.9"/><g transform="translate(78.1,29) scale(0.2455)"><path d="M0,123.8 C0.5,100 1.5,82 2.1,72.2 C3,55 4.5,45 6.4,38 C9,28 11,22.5 15,17.7 C19,12.5 24,9 28.9,6 L32,3.9 L59.9,0.2 Q62.5,0.5 64.1,2.8 L67.3,6 Q114,3.2 160.8,6 L164,2.8 Q165.6,0.5 168.2,0.2 L196.1,3.9 L199.2,6 C204.1,9 209.1,12.5 213.1,17.7 C217.1,22.5 219.1,28 221.7,38 C223.6,45 225.1,55 226,72.2 C226.6,82 227.6,100 228.1,123.8 L178.1,162.4 Q171,164.2 164.5,161.3 C158,150 152,137 147.4,123.5 H136 L124.5,119.6 H104 L92.5,123.5 H80.7 C76,137 70,150 63.6,161.3 Q57,164.2 50,162.4Z" fill="#a1a1a1"/><path d="M74.8,9.8 Q50,10.5 29.9,13.5 C18,16 10,27 10,40.2 C10,50 14,58.5 20.3,63.7 L75.5,97 Q79.1,99 83,99 H98 Q100.5,99 101.3,96.6 L104,89.2 Q104.7,87.2 107,87.2 H121.1 Q123.4,87.2 124.1,89.2 L126.8,96.6 Q127.6,99 130.1,99 H145.1 Q149,99 152.6,97 L207.8,63.7 C214.1,58.5 218.1,50 218.1,40.2 C218.1,27 210.1,16 198.2,13.5 Q178,10.5 153.3,9.8 L149,27.4 Q147.5,36.6 135.1,36.6 H93 Q80.6,36.6 79.1,27.4Z" fill="#fff"/><circle cx="46.8" cy="39.1" r="17.1" fill="#a1a1a1"/><circle cx="181.3" cy="39.1" r="17.1" fill="#a1a1a1"/><circle cx="70.6" cy="65.4" r="7.9" fill="#a1a1a1"/><circle cx="83.4" cy="79.1" r="7.9" fill="#a1a1a1"/><circle cx="157.5" cy="65.4" r="7.9" fill="#a1a1a1"/><circle cx="144.7" cy="79.1" r="7.9" fill="#a1a1a1"/></g></svg></div>
<div class="t" style="left:1555.2px;top:987px;font-size:27px;line-height:30px;font-weight:700;color:#000;transform-origin:0 24px;transform:scale(0.9229,1.0)">Clawbot with Controller</div>
<div class="card" style="left:1900px;top:728px"><svg viewBox="0 0 328 328"><g transform="translate(-1900,-728)"><g fill="#ff8c1a"><rect x="1974.00" y="774.80" width="180.20" height="134.20" rx="12.5" /><rect x="1977.60" y="778.30" width="173.20" height="102.70" rx="9.5" fill="#fff" /><rect x="1997.70" y="791.40" width="132.70" height="76.30" rx="6.5" /><rect x="2023.40" y="803.90" width="81.10" height="51.60" rx="7.5" fill="#fff" /><rect x="2007.10" y="803.90" width="8.90" height="17.30" rx="1.8" fill="#fff" /><rect x="2007.10" y="837.90" width="8.90" height="17.40" rx="1.8" fill="#fff" /><rect x="2112.40" y="803.90" width="8.90" height="17.30" rx="1.8" fill="#fff" /><rect x="2112.40" y="837.90" width="8.90" height="17.40" rx="1.8" fill="#fff" /><rect x="1997.70" y="888.90" width="12.30" height="12.00" rx="1.6" fill="#fff" /><rect x="2021.78" y="888.90" width="12.30" height="12.00" rx="1.6" fill="#fff" /><rect x="2045.86" y="888.90" width="12.30" height="12.00" rx="1.6" fill="#fff" /><rect x="2069.94" y="888.90" width="12.30" height="12.00" rx="1.6" fill="#fff" /><rect x="2094.02" y="888.90" width="12.30" height="12.00" rx="1.6" fill="#fff" /><rect x="2118.10" y="888.90" width="12.30" height="12.00" rx="1.6" fill="#fff" /></g><text x="2064" y="839.6" text-anchor="middle" font-family="Liberation Sans, sans-serif" font-size="29.6" fill="#ff8c1a" stroke="#ff8c1a" stroke-width="0.9" textLength="64.6" lengthAdjust="spacingAndGlyphs">3 &gt; 2</text></g></svg></div>
<div class="t" style="left:1953.6px;top:987px;font-size:27px;line-height:30px;font-weight:700;color:#000;transform-origin:0 24px;transform:scale(0.9353,1.0)">Comparing Values</div>
</body></html>
